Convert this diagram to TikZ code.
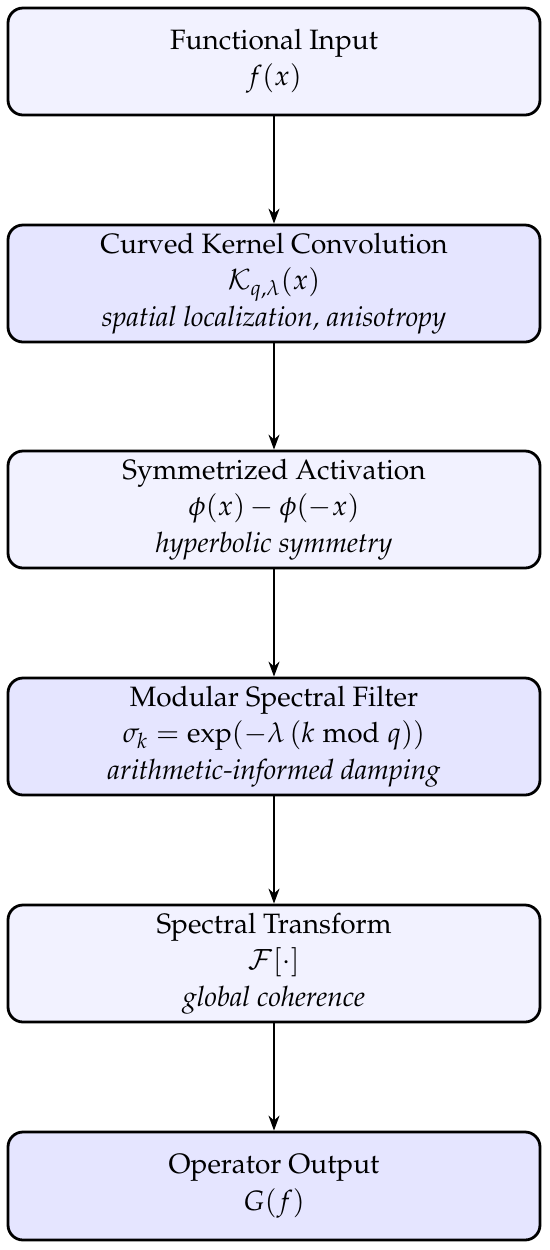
\documentclass[tikz,border=0pt]{standalone}
\usepackage[T1]{fontenc}
\usepackage{mathpazo}
\usetikzlibrary{arrows.meta}
\begin{document}
\begin{tikzpicture}[x=1pt,y=1pt,
  boxA/.style={draw=black, line width=1.4pt, rounded corners=7.5pt, fill=blue!5,
    minimum width=266pt, align=center, font=\fontsize{14}{18.2}\selectfont, inner sep=0pt},
  boxB/.style={boxA, fill=blue!10},
  flow/.style={-{Stealth[length=7.5pt,width=5.5pt]}, line width=1pt}]
\useasboundingbox (0,0) rectangle (275,-625);
\node[boxA, minimum height=53.5pt] (in) at (137,-30.75) {Functional Input\\ $f(x)$};
\node[boxB, minimum height=58.5pt] (kc) at (137,-141.75) {Curved Kernel Convolution\\ $\mathcal{K}_{q,\lambda}(x)$\\ \textit{spatial localization, anisotropy}};
\node[boxA, minimum height=58.5pt] (sa) at (137,-254.75) {Symmetrized Activation\\ $\phi(x)-\phi(-x)$\\ \textit{hyperbolic symmetry}};
\node[boxB, minimum height=58.5pt] (ms) at (137,-368.25) {Modular Spectral Filter\\ $\sigma_k=\exp(-\lambda\,(k \bmod q))$\\ \textit{arithmetic-informed damping}};
\node[boxA, minimum height=58.5pt] (st) at (137,-481.75) {Spectral Transform\\ $\mathcal{F}[\cdot]$\\ \textit{global coherence}};
\node[boxB, minimum height=54pt] (out) at (137,-593) {Operator Output\\ $G(f)$};
\draw[flow] (in) -- (kc);
\draw[flow] (kc) -- (sa);
\draw[flow] (sa) -- (ms);
\draw[flow] (ms) -- (st);
\draw[flow] (st) -- (out);
\end{tikzpicture}
\end{document}
